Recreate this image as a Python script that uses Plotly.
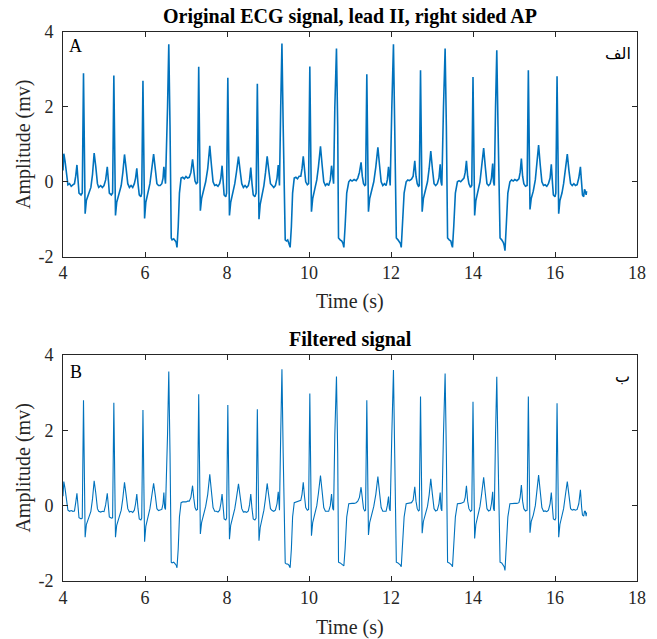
import plotly.graph_objects as go

# ---------------- data ----------------
time_s = [
    4.00, 4.02, 4.05, 4.10, 4.12, 4.16, 4.20, 4.24, 4.28, 4.31, 4.34, 4.37, 4.39, 4.44, 4.47,
    4.50, 4.54, 4.57, 4.62, 4.68, 4.72, 4.76, 4.80, 4.84, 4.87, 4.92, 4.96, 5.00, 5.04, 5.08, 5.11, 5.13, 5.18, 5.21,
    5.24, 5.28, 5.31, 5.36, 5.42, 5.46, 5.50, 5.54, 5.58, 5.62, 5.66, 5.70, 5.74, 5.77, 5.80, 5.83, 5.86, 5.90, 5.92,
    5.95, 5.99, 6.02, 6.07, 6.12, 6.16, 6.21, 6.25, 6.29, 6.33, 6.37, 6.41, 6.44, 6.46, 6.48, 6.50,
    6.55, 6.58, 6.61, 6.64, 6.66, 6.70, 6.74, 6.76, 6.78, 6.81, 6.84, 6.88, 6.92, 6.96, 7.00, 7.04, 7.08, 7.12, 7.16, 7.19, 7.22, 7.25, 7.28,
    7.31, 7.35, 7.38, 7.43, 7.48, 7.53, 7.58, 7.62, 7.66, 7.70, 7.74, 7.78, 7.82, 7.85, 7.88, 7.91, 7.93, 7.97, 7.99,
    8.02, 8.06, 8.09, 8.14, 8.19, 8.23, 8.28, 8.32, 8.36, 8.40, 8.44, 8.48, 8.52, 8.55, 8.58, 8.61, 8.64, 8.68, 8.71,
    8.74, 8.78, 8.81, 8.86, 8.90, 8.94, 8.98, 9.02, 9.06, 9.10, 9.14, 9.18, 9.22, 9.25, 9.27, 9.28,
    9.31, 9.34, 9.37, 9.42, 9.45, 9.48, 9.51, 9.54, 9.57, 9.60, 9.64, 9.68, 9.72, 9.76, 9.80, 9.83, 9.86, 9.89, 9.92, 9.96, 9.99,
    10.02, 10.06, 10.09, 10.14, 10.19, 10.23, 10.28, 10.32, 10.36, 10.40, 10.44, 10.48, 10.52, 10.55, 10.58, 10.60,
    10.63, 10.67, 10.70, 10.72, 10.76, 10.80, 10.83, 10.85, 10.88, 10.92, 10.97, 11.01, 11.05, 11.10, 11.15, 11.19, 11.23, 11.27, 11.30, 11.33, 11.36, 11.38,
    11.41, 11.45, 11.48, 11.53, 11.58, 11.63, 11.68, 11.72, 11.76, 11.80, 11.84, 11.88, 11.91, 11.94, 11.96, 11.98,
    12.02, 12.06, 12.09, 12.13, 12.17, 12.21, 12.23, 12.25, 12.28, 12.32, 12.37, 12.41, 12.45, 12.50, 12.54, 12.58, 12.61, 12.64, 12.67, 12.69,
    12.72, 12.76, 12.79, 12.84, 12.89, 12.93, 12.97, 13.01, 13.05, 13.09, 13.13, 13.17, 13.20, 13.22, 13.24,
    13.28, 13.32, 13.35, 13.38, 13.42, 13.46, 13.48, 13.50, 13.53, 13.57, 13.62, 13.66, 13.70, 13.74, 13.78, 13.81, 13.84, 13.87, 13.90, 13.94, 13.97,
    14.00, 14.04, 14.07, 14.12, 14.17, 14.21, 14.26, 14.30, 14.34, 14.38, 14.42, 14.45, 14.48, 14.50, 14.52,
    14.55, 14.58, 14.61, 14.66, 14.70, 14.74, 14.76, 14.78, 14.81, 14.85, 14.90, 14.94, 14.98, 15.02, 15.07, 15.12, 15.15, 15.18, 15.21, 15.24, 15.28, 15.32,
    15.35, 15.39, 15.42, 15.47, 15.52, 15.56, 15.60, 15.64, 15.68, 15.72, 15.76, 15.80, 15.84, 15.88, 15.91, 15.94, 15.96, 16.00, 16.02,
    16.05, 16.09, 16.12, 16.17, 16.21, 16.25, 16.30, 16.34, 16.38, 16.42, 16.46, 16.50, 16.54, 16.58, 16.62, 16.65, 16.67, 16.70, 16.72, 16.74, 16.76, 16.77,
]

original_mv = [
    0.30, 0.75, 0.55, 0.05, -0.08, -0.05, -0.12, -0.08, -0.05, 0.15, 0.45, 0.0, -0.30, -0.35, -0.30,
    2.90, -0.85, -0.50, -0.35, -0.15, 0.20, 0.77, 0.40, -0.05, -0.15, -0.10, -0.15, -0.10, 0.05, 0.40, 0.0, -0.30, -0.35, -0.30,
    2.84, -0.90, -0.55, -0.35, -0.10, 0.25, 0.73, 0.35, -0.05, -0.15, -0.10, -0.15, -0.05, 0.10, 0.36, -0.05, -0.35, -0.40, -0.30,
    2.70, -0.98, -0.55, -0.30, -0.05, 0.30, 0.74, 0.35, -0.05, -0.10, -0.10, -0.05, 0.10, 0.40, 0.0, -0.05,
    2.0, 3.67, 1.5, -1.50, -1.55, -1.52, -1.58, -1.62, -1.75, -1.2, -0.3, 0.10, 0.12, 0.08, 0.14, 0.10, 0.12, 0.25, 0.60, 0.25, 0.02, -0.05, -0.02,
    3.07, -0.77, -0.45, -0.25, 0.0, 0.35, 0.96, 0.45, 0.0, -0.10, -0.08, -0.12, -0.05, 0.10, 0.43, -0.05, -0.35, -0.40, -0.30,
    2.78, -0.90, -0.55, -0.30, -0.05, 0.25, 0.67, 0.30, -0.05, -0.15, -0.10, -0.15, -0.10, 0.05, 0.38, -0.05, -0.35, -0.40, -0.30,
    2.62, -1.00, -0.60, -0.35, -0.10, 0.25, 0.68, 0.30, -0.05, -0.10, -0.15, -0.10, 0.10, 0.45, 0.0, -0.1,
    2.0, 3.69, 1.5, -1.55, -1.58, -1.55, -1.65, -1.75, -1.2, -0.3, 0.10, 0.12, 0.08, 0.15, 0.15, 0.35, 0.68, 0.30, 0.0, -0.08, -0.05,
    3.08, -0.80, -0.45, -0.20, 0.05, 0.40, 0.95, 0.45, 0.0, -0.10, -0.05, -0.10, 0.05, 0.43, 0.0, -0.05,
    2.0, 3.56, 1.5, -1.50, -1.55, -1.58, -1.65, -1.75, -1.2, -0.3, 0.00, 0.05, 0.02, 0.06, 0.03, 0.10, 0.25, 0.52, 0.15, -0.05, -0.10, -0.08,
    2.87, -0.80, -0.45, -0.25, 0.0, 0.40, 0.92, 0.45, 0.0, -0.10, -0.05, -0.10, 0.05, 0.40, 0.0, -0.10,
    2.0, 3.67, 1.5, -1.50, -1.55, -1.60, -1.65, -1.75, -1.2, -0.3, 0.0, 0.05, 0.03, 0.07, 0.15, 0.56, 0.15, -0.05, -0.12, -0.10,
    2.98, -0.80, -0.45, -0.25, 0.0, 0.35, 0.82, 0.35, -0.05, -0.10, -0.05, 0.10, 0.47, 0.0, -0.1,
    2.0, 3.56, 1.5, -1.50, -1.55, -1.58, -1.68, -1.75, -1.2, -0.3, 0.0, 0.03, 0.0, 0.06, 0.10, 0.25, 0.56, 0.15, -0.05, -0.15, -0.10,
    2.80, -0.90, -0.50, -0.25, 0.0, 0.40, 0.90, 0.40, -0.05, -0.10, -0.05, 0.10, 0.49, 0.0, -0.1,
    2.0, 3.51, 1.5, -1.50, -1.55, -1.62, -1.70, -1.84, -1.2, -0.3, 0.0, 0.05, 0.02, 0.06, 0.03, 0.08, 0.25, 0.62, 0.15, -0.05, -0.12, -0.10,
    2.98, -0.74, -0.45, -0.25, 0.05, 0.45, 0.98, 0.45, 0.0, -0.10, -0.08, -0.12, -0.05, 0.10, 0.47, -0.05, -0.35, -0.40, -0.30,
    2.82, -0.85, -0.50, -0.30, -0.05, 0.30, 0.74, 0.30, -0.05, -0.10, -0.05, -0.10, -0.08, 0.10, 0.40, -0.05, -0.35, -0.40, -0.20, -0.25, -0.35, -0.25,
]

filtered_mv = [
    0.25, 0.64, 0.45, 0.0, -0.12, -0.15, -0.13, -0.15, -0.14, 0.08, 0.33, -0.05, -0.32, -0.35, -0.33,
    2.80, -0.84, -0.50, -0.35, -0.15, 0.18, 0.66, 0.33, -0.08, -0.15, -0.17, -0.15, -0.16, 0.02, 0.33, -0.05, -0.30, -0.33, -0.32,
    2.73, -0.84, -0.52, -0.35, -0.12, 0.20, 0.62, 0.28, -0.08, -0.17, -0.15, -0.18, -0.12, 0.05, 0.31, -0.08, -0.35, -0.38, -0.33,
    2.54, -0.96, -0.55, -0.30, -0.08, 0.22, 0.59, 0.28, -0.08, -0.13, -0.12, -0.10, 0.05, 0.35, -0.05, -0.10,
    1.9, 3.56, 1.4, -1.50, -1.52, -1.50, -1.55, -1.58, -1.65, -1.15, -0.3, 0.08, 0.10, 0.10, 0.10, 0.12, 0.12, 0.22, 0.53, 0.20, -0.05, -0.12, -0.10,
    2.96, -0.75, -0.45, -0.25, -0.02, 0.30, 0.83, 0.38, -0.05, -0.15, -0.15, -0.17, -0.12, 0.05, 0.31, -0.08, -0.35, -0.38, -0.33,
    2.67, -0.89, -0.52, -0.30, -0.08, 0.20, 0.58, 0.25, -0.08, -0.17, -0.16, -0.18, -0.14, 0.02, 0.31, -0.08, -0.35, -0.38, -0.33,
    2.56, -0.93, -0.58, -0.35, -0.12, 0.20, 0.59, 0.25, -0.08, -0.13, -0.15, -0.12, 0.05, 0.37, -0.05, -0.12,
    1.9, 3.62, 1.4, -1.52, -1.55, -1.55, -1.58, -1.65, -1.15, -0.3, 0.08, 0.10, 0.10, 0.12, 0.14, 0.30, 0.62, 0.25, -0.05, -0.12, -0.10,
    2.98, -0.80, -0.45, -0.22, 0.0, 0.33, 0.80, 0.38, -0.05, -0.15, -0.15, -0.15, 0.0, 0.31, -0.08, -0.12,
    1.9, 3.43, 1.4, -1.50, -1.52, -1.55, -1.58, -1.60, -1.15, -0.3, 0.05, 0.06, 0.06, 0.06, 0.08, 0.12, 0.22, 0.49, 0.12, -0.08, -0.14, -0.12,
    2.80, -0.78, -0.45, -0.25, -0.02, 0.30, 0.77, 0.35, -0.05, -0.15, -0.14, -0.15, 0.0, 0.24, -0.08, -0.14,
    1.9, 3.60, 1.4, -1.50, -1.52, -1.55, -1.58, -1.62, -1.15, -0.3, 0.05, 0.06, 0.06, 0.08, 0.15, 0.50, 0.12, -0.08, -0.14, -0.12,
    2.90, -0.73, -0.42, -0.25, -0.02, 0.28, 0.71, 0.30, -0.08, -0.14, -0.12, 0.05, 0.35, -0.08, -0.14,
    1.9, 3.51, 1.4, -1.50, -1.52, -1.55, -1.58, -1.62, -1.15, -0.3, 0.05, 0.05, 0.06, 0.08, 0.10, 0.22, 0.53, 0.12, -0.08, -0.15, -0.12,
    2.76, -0.87, -0.50, -0.27, -0.02, 0.30, 0.75, 0.33, -0.08, -0.14, -0.12, 0.05, 0.37, -0.08, -0.14,
    1.9, 3.42, 1.4, -1.50, -1.52, -1.58, -1.62, -1.72, -1.15, -0.3, 0.05, 0.06, 0.05, 0.06, 0.06, 0.08, 0.22, 0.55, 0.12, -0.08, -0.14, -0.12,
    2.90, -0.72, -0.42, -0.25, 0.0, 0.35, 0.81, 0.38, -0.05, -0.15, -0.14, -0.16, -0.12, 0.05, 0.35, -0.08, -0.35, -0.38, -0.33,
    2.72, -0.84, -0.50, -0.30, -0.08, 0.25, 0.64, 0.28, -0.08, -0.12, -0.10, -0.12, -0.10, 0.05, 0.42, -0.05, -0.25, -0.28, -0.15, -0.15, -0.28, -0.18,
]

assert len(time_s) == len(original_mv) == len(filtered_mv)

x_ticks = [4, 6, 8, 10, 12, 14, 16, 18]
x_tick_labels = ["4", "6", "8", "10", "12", "14", "16", "18"]
y_ticks = [-2, 0, 2, 4]
y_tick_labels = ["-2", "0", "2", "4"]
titles = ["Original ECG signal, lead II, right sided AP", "Filtered signal"]
x_title = "Time (s)"
y_title = "Amplitude (mv)"
panel_letters = ["A", "B"]
panel_arabic = ["الف", "ب"]

# ---------------- figure ----------------
LINE = "#0072BD"
AX = "#262626"
FONT = "Liberation Serif, Times New Roman, serif"
AR_FONT = "DejaVu Sans, Noto Sans"

fig = go.Figure()
fig.add_trace(go.Scatter(x=time_s, y=original_mv, mode="lines",
                         line=dict(color=LINE, width=1.6), xaxis="x", yaxis="y",
                         showlegend=False))
fig.add_trace(go.Scatter(x=time_s, y=filtered_mv, mode="lines",
                         line=dict(color=LINE, width=1.1), xaxis="x2", yaxis="y2",
                         showlegend=False))

def xax(anchor):
    return dict(range=[4, 18], tickvals=x_ticks, ticktext=x_tick_labels,
                ticks="inside", ticklen=5,
                tickcolor=AX, linecolor=AX, linewidth=1, mirror="ticks",
                showline=True, showgrid=False, zeroline=False, anchor=anchor,
                tickfont=dict(family=FONT, size=18, color=AX))

def yax(anchor, domain):
    return dict(range=[-2, 4], tickvals=y_ticks, ticktext=y_tick_labels,
                ticks="inside", ticklen=5, ticklabelstandoff=5,
                tickcolor=AX, linecolor=AX, linewidth=1, mirror="ticks",
                showline=True, showgrid=False, zeroline=False, anchor=anchor,
                domain=domain,
                tickfont=dict(family=FONT, size=18, color=AX))

def note(text, x, y, size, family=FONT, color=AX, angle=0):
    return dict(text=text, x=x, y=y, xref="paper", yref="paper",
                xanchor="center", yanchor="middle", showarrow=False,
                textangle=angle, font=dict(family=family, size=size, color=color))

annotations = [
    note("<b>" + titles[0] + "</b>", 0.5, 1.0291, 20, color="black"),
    note("<b>" + titles[1] + "</b>", 0.5, 0.4390, 20, color="black"),
    note(x_title, 0.5, 0.510, 20),
    note(x_title, 0.5, -0.0856, 20),
    note(y_title, -0.0686, 0.7954, 20, angle=-90),
    note(y_title, -0.0686, 0.2059, 20, angle=-90),
    note(panel_letters[0], 0.0223, 0.9745, 18, color="black"),
    note(panel_letters[1], 0.0223, 0.3807, 18, color="black"),
    note(panel_arabic[0], 0.9674, 0.9617, 16, family=AR_FONT, color="black"),
    note(panel_arabic[1], 0.974, 0.3734, 16, family=AR_FONT, color="black"),
]

fig.update_layout(
    width=657, height=639,
    margin=dict(l=63, r=11, t=32, b=58),
    paper_bgcolor="white", plot_bgcolor="white",
    xaxis=xax("y"), yaxis=yax("x", [0.5907, 1.0]),
    xaxis2=xax("y2"), yaxis2=yax("x2", [0.0, 0.4117]),
    annotations=annotations,
)

fig.write_html("out.html")
